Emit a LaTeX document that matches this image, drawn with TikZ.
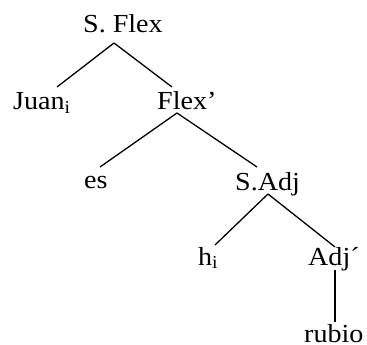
\documentclass[tikz,border=0pt]{standalone}
\usepackage{fontspec}
\setmainfont{Liberation Serif}
\newfontfamily\treefont[FakeStretch=1.08]{Liberation Serif}
\begin{document}
\begin{tikzpicture}[x=1pt,y=-1pt,
  lbl/.style={anchor=base west,inner sep=0pt,font=\treefont\fontsize{26}{28}\selectfont},
  branch/.style={line width=1.3pt}]
\useasboundingbox (0,0) rectangle (367,345);
% node labels, placed by their baselines
\node[lbl] (sflex) at (83,33) {S. Flex};
\node[lbl] (juan)  at (13,110) {Juan\textsubscript{i}};
\node[lbl] (flex)  at (157,110) {Flex’};
\node[lbl] (es)    at (84,188) {es};
\node[lbl] (sadj)  at (235,190) {S.Adj};
\node[lbl] (hi)    at (198,265) {h\textsubscript{i}};
\node[lbl] (adj)   at (308,265) {Adj´};
\node[lbl] (rubio) at (304,342) {rubio};
% branch end points
\coordinate (sflex-b) at (114,43);
\coordinate (juan-t)  at (57,87);
\coordinate (flex-t)  at (172,87);
\coordinate (flex-b)  at (177,113);
\coordinate (es-t)    at (100,167);
\coordinate (sadj-t)  at (257,167);
\coordinate (sadj-b)  at (268,194);
\coordinate (hi-t)    at (215,245);
\coordinate (adj-t)   at (335,247);
\coordinate (adj-b)   at (335,270);
\coordinate (rubio-t) at (335,322);
% branches
\draw[branch] (sflex-b) -- (juan-t);
\draw[branch] (sflex-b) -- (flex-t);
\draw[branch] (flex-b) -- (es-t);
\draw[branch] (flex-b) -- (sadj-t);
\draw[branch] (sadj-b) -- (hi-t);
\draw[branch] (sadj-b) -- (adj-t);
\draw[branch] (adj-b) -- (rubio-t);
\end{tikzpicture}
\end{document}
